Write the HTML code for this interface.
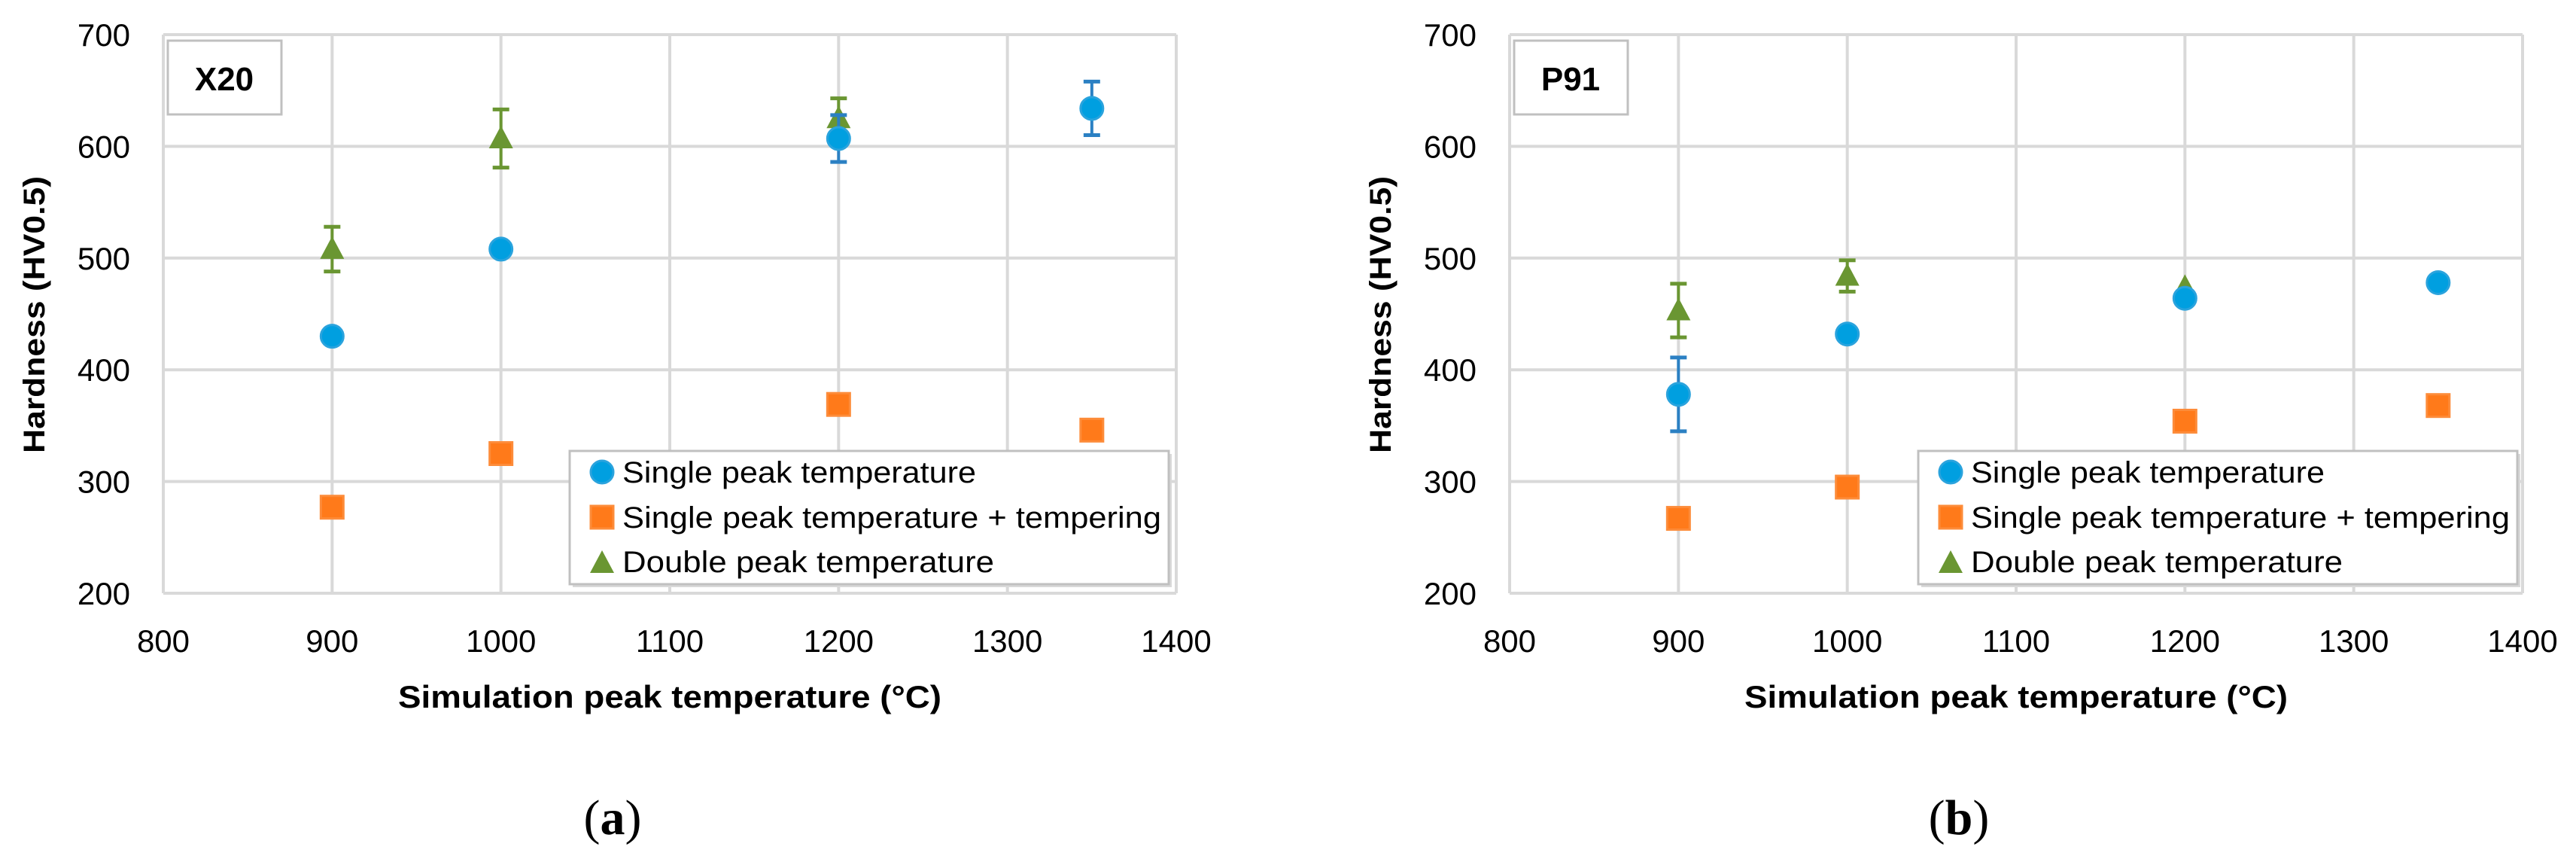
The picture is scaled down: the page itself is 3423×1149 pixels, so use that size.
<!DOCTYPE html>
<html><head><meta charset="utf-8"><style>
html,body{margin:0;padding:0;background:#fff;}
svg{display:block;}
text{font-family:"Liberation Sans",sans-serif;}
text.serif{font-family:"Liberation Serif",serif;}
</style></head><body>
<svg id="fig" width="3423" height="1149" viewBox="0 0 3423 1149" xmlns="http://www.w3.org/2000/svg"></svg>
<script>
const xTicks=[800,900,1000,1100,1200,1300,1400];
const yTicks=[200,300,400,500,600,700];
const temps=[900,1000,1200,1350];
// Panel (a) X20
const aSingle=[430,508,607,634];
const aSingleErr=[0,0,21,24];
const aTemper=[277,325,369,346];
const aDoubleT=[900,1000,1200];
const aDouble=[508,607,625];
const aDoubleErr=[20,26,18];
// Panel (b) P91
const bSingle=[378,432,464,478];
const bSingleErr=[33,0,0,0];
const bTemper=[267,295,354,368];
const bDoubleT=[900,1000,1200];
const bDouble=[453,484,474];
const bDoubleErr=[24,14,0];
const legendLabels=["Single peak temperature","Single peak temperature + tempering","Double peak temperature"];

const NS="http://www.w3.org/2000/svg";
const svg=document.getElementById('fig');
function mk(tag,attrs,parent){const e=document.createElementNS(NS,tag);for(const k in attrs)e.setAttribute(k,attrs[k]);(parent||svg).appendChild(e);return e;}

function panel(cfg){
  const g=mk('g',{});
  
  
  const L=cfg.left,R=cfg.left+1346,T=46,B=788;
  const sx=v=>L+(v-800)/600*(R-L);
  const sy=v=>B-(v-200)/500*(B-T);
  xTicks.forEach(t=>{const l=mk('line',{x1:sx(t),x2:sx(t),y1:T,y2:B,stroke:'#d9d9d9','stroke-width':4},g);
    
    const tx=mk('text',{x:sx(t),y:B+78,'font-size':42,'text-anchor':'middle',fill:'#000'},g);tx.textContent=t;
    });
  yTicks.forEach(t=>{const l=mk('line',{x1:L,x2:R,y1:sy(t),y2:sy(t),stroke:'#d9d9d9','stroke-width':4},g);
    
    const tx=mk('text',{x:L-44,y:sy(t)+15,'font-size':42,'text-anchor':'end',fill:'#000'},g);tx.textContent=t;
    });
  const yt=mk('text',{x:0,y:0,'font-size':40,'font-weight':'bold','text-anchor':'middle',transform:`translate(${L-158},418) rotate(-90)`,textLength:368,lengthAdjust:'spacingAndGlyphs'},g);
  yt.textContent='Hardness (HV0.5)';
  const xt=mk('text',{x:L+673,y:940,'font-size':42,'font-weight':'bold','text-anchor':'middle',textLength:722,lengthAdjust:'spacingAndGlyphs'},g);
  xt.textContent='Simulation peak temperature (°C)';
  const pl=mk('text',{x:L+597,y:1108,'font-size':66,'text-anchor':'middle','class':'serif'},g);
  pl.innerHTML='(<tspan font-weight="bold">'+cfg.letter+'</tspan>)';
  const mb=mk('rect',{x:L+6,y:54,width:151,height:98,fill:'#fff',stroke:'#c0c0c0','stroke-width':3},g);
  
  const mt=mk('text',{x:L+81,y:120,'font-size':44,'font-weight':'bold','text-anchor':'middle'},g);mt.textContent=cfg.mat;
  
  function err(x,v,e,col){if(!e)return;const gx=sx(x);
    const l=mk('line',{x1:gx,x2:gx,y1:sy(v+e),y2:sy(v-e),stroke:col,'stroke-width':4},g);
    [v+e,v-e].forEach(c=>{const cp=mk('line',{x1:gx-11,x2:gx+11,y1:sy(c),y2:sy(c),stroke:col,'stroke-width':5},g);});}
  function circ(cx,cy){return mk('circle',{cx:cx,cy:cy,r:15,fill:'#009fe0',stroke:'#2aa3dd','stroke-width':3},g);}
  function sq(cx,cy){return mk('rect',{x:cx-15,y:cy-15,width:30,height:30,fill:'#ff7a1a',stroke:'#fd8c3a','stroke-width':3},g);}
  function tri(cx,cy){return mk('polygon',{points:`${cx},${cy-17} ${cx+16},${cy+13} ${cx-16},${cy+13}`,fill:'#6a9632'},g);}
  temps.forEach((t,i)=>{const m=sq(sx(t),sy(cfg.temper[i]));});
  cfg.dT.forEach((t,i)=>{err(t,cfg.dbl[i],cfg.dErr[i],'#6a9632');const m=tri(sx(t),sy(cfg.dbl[i]));});
  temps.forEach((t,i)=>{err(t,cfg.single[i],cfg.sErr[i],'#2b80c3');const m=circ(sx(t),sy(cfg.single[i]));});
  const lg=mk('g',{},g);
  const lx=cfg.legX,ly=599,lw=cfg.legW,lh=177;
  mk('rect',{x:lx+4,y:ly+4,width:lw,height:lh,fill:'#d9d9d9'},lg);
  mk('rect',{x:lx,y:ly,width:lw,height:lh,fill:'#fff',stroke:'#c0c0c0','stroke-width':3},lg);
  const rows=[627,687,746];
  const lens=[470,716,494];
  legendLabels.forEach((s,i)=>{const e=mk('g',{},lg);
    const mx=lx+43;
    if(i==0)e.appendChild(circ(mx,rows[i]));else if(i==1)e.appendChild(sq(mx,rows[i]));else e.appendChild(tri(mx,rows[i]+2));
    const tx=mk('text',{x:lx+70,y:rows[i]+14,'font-size':40,textLength:lens[i],lengthAdjust:'spacingAndGlyphs'},e);tx.textContent=s;
  });
}
panel({name:'chart-x20',left:217,letter:'a',mat:'X20',single:aSingle,sErr:aSingleErr,temper:aTemper,dT:aDoubleT,dbl:aDouble,dErr:aDoubleErr,legX:757,legW:796});
panel({name:'chart-p91',left:2006,letter:'b',mat:'P91',single:bSingle,sErr:bSingleErr,temper:bTemper,dT:bDoubleT,dbl:bDouble,dErr:bDoubleErr,legX:2549,legW:796});
</script>
</body></html>
